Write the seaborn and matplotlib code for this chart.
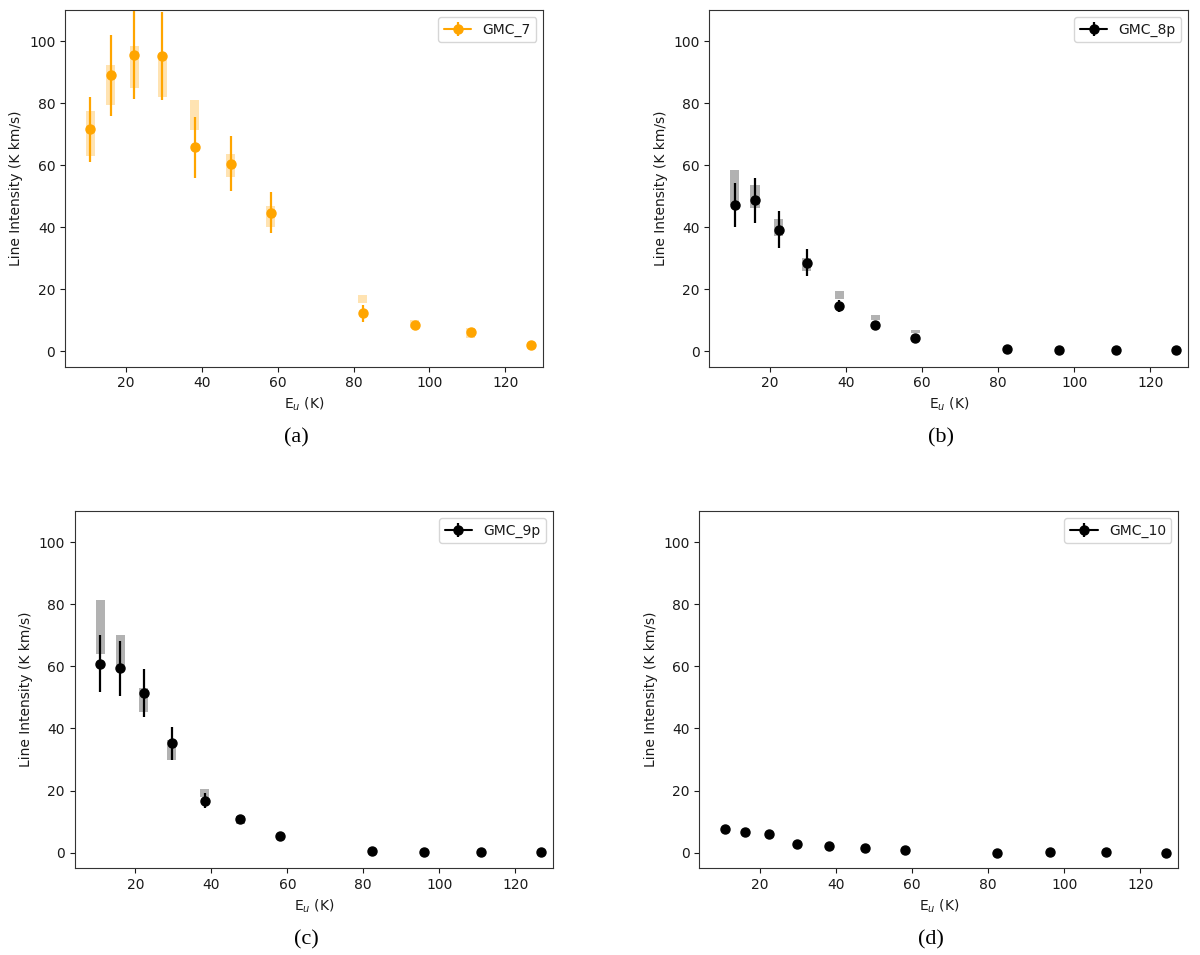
import matplotlib
matplotlib.use("Agg")
import matplotlib.pyplot as plt
import numpy as np
import seaborn as sns

# upper level energies (K), shared by all panels
e_up = [10.7, 16.0, 22.2, 29.6, 38.2, 47.6, 58.2, 82.4, 96.1, 110.9, 126.8]

# GMC_7
gmc7_int = [71.5, 88.9, 95.6, 95.2, 65.7, 60.5, 44.7, 12.2, 8.6, 6.2, 1.9]
gmc7_err = [10.6, 13.2, 14.2, 14.2, 9.8, 9.0, 6.7, 2.8, 0.8, 0.6, 0.3]
gmc7_lo = [62.8, 79.4, 84.9, 81.8, 71.3, 56.2, 39.9, 15.4, 7.5, 4.3, np.nan]
gmc7_hi = [77.3, 92.2, 98.3, 93.9, 80.9, 63.7, 46.8, 18.0, 10.0, 7.5, np.nan]

# GMC_8p
gmc8_int = [47.2, 48.6, 39.2, 28.6, 14.5, 8.6, 4.2, 0.6, 0.3, 0.3, 0.5]
gmc8_err = [7.0, 7.3, 5.9, 4.2, 2.0, 0.8, 0.5, 0.1, 0.1, 0.1, 0.1]
gmc8_lo = [47.0, 46.3, 37.1, 25.9, 16.7, 10.2, 5.9, np.nan, np.nan, np.nan, np.nan]
gmc8_hi = [58.4, 53.7, 42.7, 30.1, 19.4, 11.7, 6.7, np.nan, np.nan, np.nan, np.nan]

# GMC_9p
gmc9_int = [60.9, 59.4, 51.3, 35.2, 16.8, 10.9, 5.3, 0.6, 0.4, 0.4, 0.4]
gmc9_err = [9.2, 8.9, 7.7, 5.3, 2.5, 1.0, 0.5, 0.1, 0.1, 0.1, 0.1]
gmc9_lo = [64.1, 60.3, 45.4, 29.7, 17.8, 9.4, np.nan, np.nan, np.nan, np.nan, np.nan]
gmc9_hi = [81.4, 70.0, 53.0, 36.3, 20.6, 11.9, np.nan, np.nan, np.nan, np.nan, np.nan]

# GMC_10
gmc10_int = [7.7, 6.6, 6.1, 2.8, 2.2, 1.5, 0.9, 0.0, 0.1, 0.1, 0.0]
gmc10_err = [0.6, 0.5, 0.5, 0.3, 0.2, 0.2, 0.1, 0.1, 0.1, 0.1, 0.1]

sns.set_style("ticks", {"axes.edgecolor": "0.2", "xtick.color": "0.1",
                        "ytick.color": "0.1", "text.color": "0.1",
                        "axes.labelcolor": "0.1"})
plt.rcParams["font.family"] = ["DejaVu Sans"]
plt.rcParams["font.size"] = 10

fig = plt.figure(figsize=(12, 9.55), dpi=100)
boxes = [[0.0542, 0.616, 0.3986, 0.3735],
         [0.5911, 0.616, 0.3992, 0.3735],
         [0.0622, 0.0908, 0.3988, 0.3741],
         [0.5828, 0.0908, 0.3992, 0.3741]]

panels = [("GMC_7", gmc7_int, gmc7_err, gmc7_lo, gmc7_hi, "orange"),
          ("GMC_8p", gmc8_int, gmc8_err, gmc8_lo, gmc8_hi, "black"),
          ("GMC_9p", gmc9_int, gmc9_err, gmc9_lo, gmc9_hi, "black"),
          ("GMC_10", gmc10_int, gmc10_err, None, None, "black")]

captions = ["(a)", "(b)", "(c)", "(d)"]
cap_pos = [(0.2467, 0.5414), (0.7842, 0.5414), (0.255, 0.0157), (0.7758, 0.0157)]

for box, (name, inten, err, lo, hi, col), cap, cp in zip(boxes, panels, captions, cap_pos):
    ax = fig.add_axes(box)
    if lo is not None:
        lo_a = np.array(lo)
        hi_a = np.array(hi)
        ax.bar(e_up, hi_a - lo_a, bottom=lo_a, width=2.4, color=col,
               alpha=0.3, linewidth=0, zorder=1)
    ax.errorbar(e_up, inten, yerr=err, fmt="o", color=col,
                markersize=6.5, elinewidth=1.6, zorder=3)
    # legend entry only (line + marker + error tick)
    ax.errorbar([np.nan], [np.nan], yerr=[np.nan], fmt="-o", color=col,
                markersize=6.5, elinewidth=1.6, label=name)
    ax.set_xlim(4, 130)
    ax.set_ylim(-5, 110)
    ax.set_xticks([20, 40, 60, 80, 100, 120])
    ax.set_yticks([0, 20, 40, 60, 80, 100])
    ax.set_xlabel("E$_u$ (K)")
    ax.set_ylabel("Line Intensity (K km/s)")
    ax.legend(loc="upper right", fancybox=True, framealpha=0.8)
    fig.text(cp[0], cp[1], cap, ha="center", va="center", fontsize=16,
             family="Liberation Serif", color="black")

fig.savefig("out.png", dpi=100)
